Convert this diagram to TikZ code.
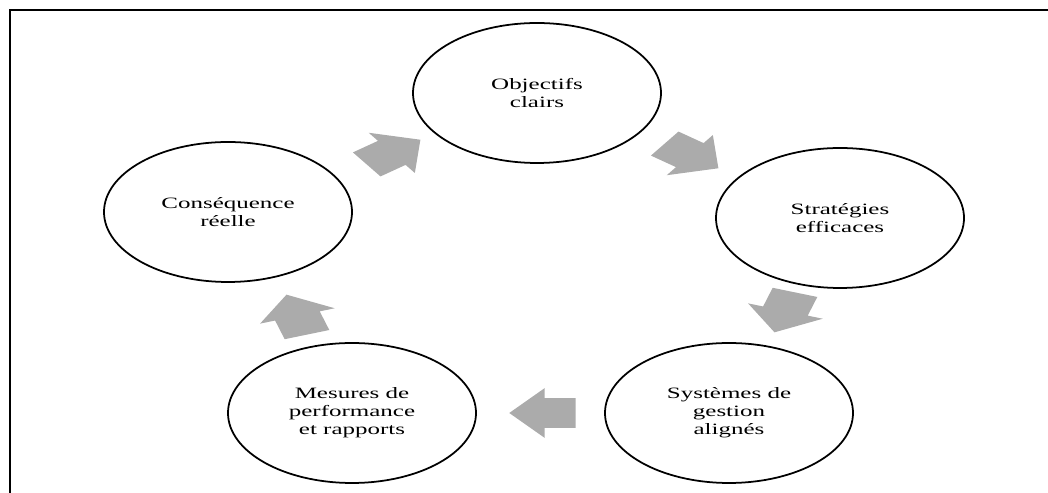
\documentclass[tikz,border=0pt]{standalone}
\usepackage{fontspec}
\setmainfont{Liberation Serif}
\usetikzlibrary{shapes.geometric, shapes.arrows}

\definecolor{arrowgray}{RGB}{171,171,171}

\tikzset{
  cyclenode/.style={ellipse, draw, line width=1pt, minimum width=3.14cm,
    minimum height=2.8cm, inner sep=0pt, align=center,
    font=\fontsize{9}{10.2}\selectfont, xscale=1.58},
  cyclearrow/.style={single arrow, fill=arrowgray, draw=none, inner xsep=0pt,
    inner ysep=0.29cm, minimum height=0.84cm, single arrow head extend=0.2cm,
    single arrow tip angle=96, xscale=1.58}
}

\begin{document}
\begin{tikzpicture}[x=0.02cm, y=0.02cm]
    \useasboundingbox (0,0) rectangle (1048,493);

    % frame
    \draw[line width=1.4pt] (10,0) -- (10,483) -- (1048,483);

    % cycle steps
    \node[cyclenode] (obj) at (537,400) {Objectifs\\clairs};
    \node[cyclenode] (strat) at (840,275) {Stratégies\\efficaces};
    \node[cyclenode] (sys) at (729,80) {Systèmes de\\gestion\\alignés};
    \node[cyclenode] (mes) at (352,80) {Mesures de\\performance\\et rapports};
    \node[cyclenode] (cons) at (228,281) {Conséquence\\réelle};

    % block arrows between the steps
    \node[cyclearrow, rotate=36] (consobj) at (385,337) {};
    \node[cyclearrow, rotate=-36] (objstrat) at (683,341) {};
    \node[cyclearrow, rotate=-108] (stratsys) at (788,187) {};
    \node[cyclearrow, rotate=180] (sysmes) at (553,80) {};
    \node[cyclearrow, rotate=108] (mescons) at (300,172) {};
\end{tikzpicture}
\end{document}
